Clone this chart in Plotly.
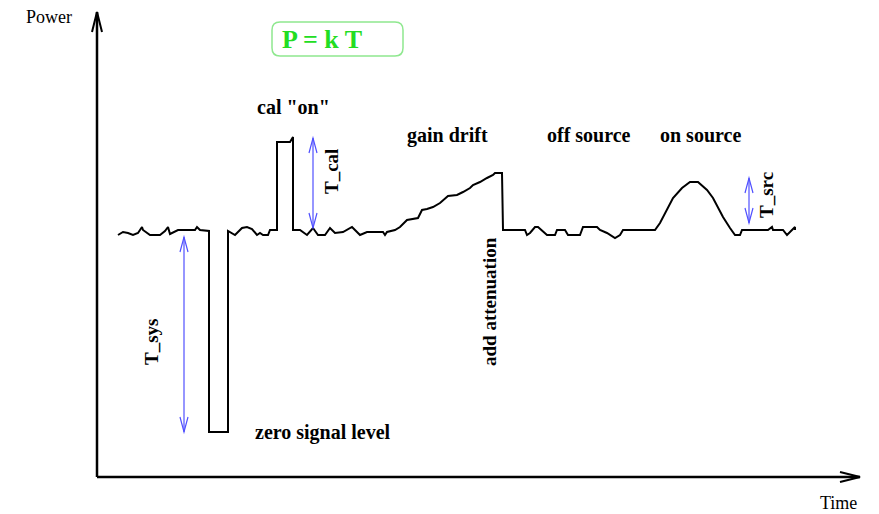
import plotly.graph_objects as go

# signal trace (time, power)
time = [21, 26, 31, 36, 41, 45, 46, 53, 63, 68, 71, 73, 81, 98, 100, 103, 112,
        112, 131, 131, 138, 145, 150, 155, 160, 163, 166, 171, 173, 180,
        180, 193, 196, 196, 203, 210, 216, 221, 228, 233, 238, 246, 255, 258,
        263, 270, 286, 288, 290, 298, 303, 310, 321, 325, 330, 336, 343, 351,
        360, 366, 373, 376, 383, 390, 396, 398, 405, 406, 428, 430, 433, 438,
        441, 450, 458, 460, 468, 471, 483, 486, 500, 503, 510, 518, 523, 526,
        558, 563, 570, 576, 585, 593, 601, 610, 616, 621, 626, 633, 638, 643,
        645, 671, 675, 676, 686, 690, 693, 698, 698]
power = [243, 246, 245, 243, 245, 251, 248, 243, 243, 247, 251, 244, 248, 248,
         251, 248, 247, 46, 46, 247, 243, 250, 251, 249, 243, 245, 243, 243,
         248, 248, 336, 336, 341, 248, 248, 243, 250, 243, 243, 250, 245, 246,
         251, 248, 243, 246, 246, 243, 246, 248, 251, 258, 260, 268, 269, 271,
         275, 282, 283, 286, 290, 293, 296, 300, 303, 305, 305, 248, 248, 243,
         245, 251, 251, 243, 243, 248, 248, 243, 243, 251, 251, 248, 245, 240,
         243, 248, 248, 255, 268, 280, 290, 296, 296, 288, 280, 271, 261, 250,
         243, 243, 248, 248, 251, 248, 248, 243, 246, 251, 248]

# labels: (text, t, p, angle)
labels = [
    ('cal "on"', 196, 371, 0),
    ("gain drift", 350, 343, 0),
    ("off source", 492, 343, 0),
    ("on source", 603, 343, 0),
    ("zero signal level", 226, 46, 0),
    ("add attenuation", 392, 176, -90),
    ("T_sys", 54, 136, -90),
    ("T_cal", 234, 306, -90),
    ("T_src", 669, 283, -90),
]

# blue double arrows: (t, p_top, p_bottom)
spans = [(87, 241, 46), (216, 340, 250), (652, 300, 255)]

SERIF = "Liberation Serif"
BLUE = "#5050ff"


def vhead(x, y, dx, dy, length=15, half=4):
    # open V arrow head with its tip at (x, y), pointing along (dx, dy)
    n = (dx * dx + dy * dy) ** 0.5
    ux, uy = dx / n, dy / n
    bx, by = x - ux * length, y - uy * length
    px, py = -uy * half, ux * half
    return f"M {bx + px} {by + py} L {x} {y} L {bx - px} {by - py}"


def rounded_box(x0, y0, x1, y1, r):
    # x0 < x1, y0 > y1 (top, bottom)
    return (f"M {x0 + r} {y0} L {x1 - r} {y0} Q {x1} {y0} {x1} {y0 - r} "
            f"L {x1} {y1 + r} Q {x1} {y1} {x1 - r} {y1} L {x0 + r} {y1} "
            f"Q {x0} {y1} {x0} {y1 + r} L {x0} {y0 - r} Q {x0} {y0} {x0 + r} {y0} Z")


fig = go.Figure()
fig.add_trace(go.Scatter(x=time, y=power, mode="lines",
                         line=dict(color="black", width=2),
                         hoverinfo="skip", showlegend=False))

shapes = []
# axes
shapes.append(dict(type="line", x0=0, y0=1, x1=0, y1=466,
                   line=dict(color="black", width=2.5)))
shapes.append(dict(type="line", x0=0, y0=1, x1=763, y1=1,
                   line=dict(color="black", width=2.5)))
shapes.append(dict(type="path", path=vhead(0, 466, 0, 1, 20, 5),
                   line=dict(color="black", width=2)))
shapes.append(dict(type="path", path=vhead(763, 1, 1, 0, 20, 5),
                   line=dict(color="black", width=2)))

for t, top, bot in spans:
    shapes.append(dict(type="line", x0=t, y0=top, x1=t, y1=bot,
                       line=dict(color=BLUE, width=1.2)))
    shapes.append(dict(type="path", path=vhead(t, top, 0, 1),
                       line=dict(color=BLUE, width=1.2)))
    shapes.append(dict(type="path", path=vhead(t, bot, 0, -1),
                       line=dict(color=BLUE, width=1.2)))

# formula box
shapes.append(dict(type="path", path=rounded_box(175, 456, 306, 422, 8),
                   line=dict(color="#8fe88f", width=1.5)))

annotations = [
    dict(text="Power", x=-48, y=461, showarrow=False,
         font=dict(family=SERIF, size=18, color="black")),
    dict(text="Time", x=741, y=-25, showarrow=False,
         font=dict(family=SERIF, size=18, color="black")),
    dict(text="<b>P = k T</b>", x=225, y=439, showarrow=False,
         font=dict(family=SERIF, size=26, color="#22dd22")),
]
for text, t, p, ang in labels:
    annotations.append(dict(text=f"<b>{text}</b>", x=t, y=p, showarrow=False,
                            textangle=ang,
                            font=dict(family=SERIF, size=20 if ang == 0 else 19,
                                      color="black")))

fig.update_layout(
    width=879, height=514, autosize=False,
    margin=dict(l=0, r=0, t=0, b=0),
    paper_bgcolor="white", plot_bgcolor="white",
    xaxis=dict(range=[-97, 782], visible=False, fixedrange=True),
    yaxis=dict(range=[-36, 478], visible=False, fixedrange=True),
    shapes=shapes, annotations=annotations,
)

fig.write_html("out.html", config={"displayModeBar": False},
               post_script="document.body.style.margin='0';"
                           "document.body.style.overflow='hidden';")
